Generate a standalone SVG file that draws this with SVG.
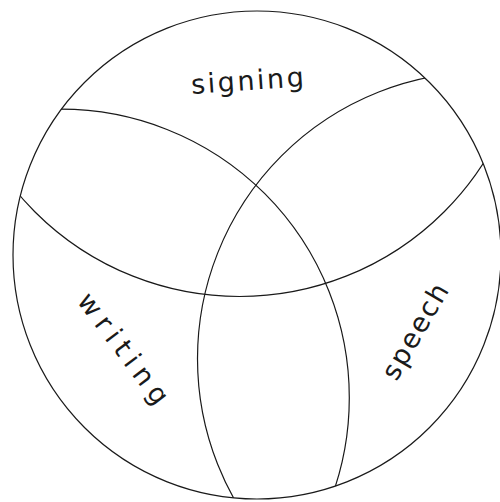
<svg xmlns="http://www.w3.org/2000/svg" width="500" height="502" viewBox="0 0 500 502">
<style>
.ln{fill:none;stroke:#1a1a1a;stroke-width:1.2}
.lb{font-family:"DejaVu Sans",sans-serif;font-size:27px;fill:#1a1a1a;text-anchor:middle}
</style>
<defs>
<clipPath id="outer"><circle cx="257" cy="255" r="244"/></clipPath>
</defs>
<rect width="500" height="502" fill="#fff"/>
<g id="signing">
<circle class="ln" cx="239.5" cy="7" r="289.5" clip-path="url(#outer)"/>
<text class="lb" transform="translate(248,90) rotate(-4)" textLength="113" lengthAdjust="spacing">signing</text>
</g>
<g id="writing">
<circle class="ln" cx="60.8" cy="397.7" r="288.5" clip-path="url(#outer)"/>
<text class="lb" transform="translate(116,354) rotate(53)" textLength="132" lengthAdjust="spacing">writing</text>
</g>
<g id="speech">
<circle class="ln" cx="484.3" cy="358.7" r="286.8" clip-path="url(#outer)"/>
<text class="lb" transform="translate(423,336) rotate(-60)" textLength="106" lengthAdjust="spacing">speech</text>
</g>
<g id="universe">
<circle class="ln" cx="257" cy="255" r="244"/>
</g>
<g id="connectors"/>
</svg>
